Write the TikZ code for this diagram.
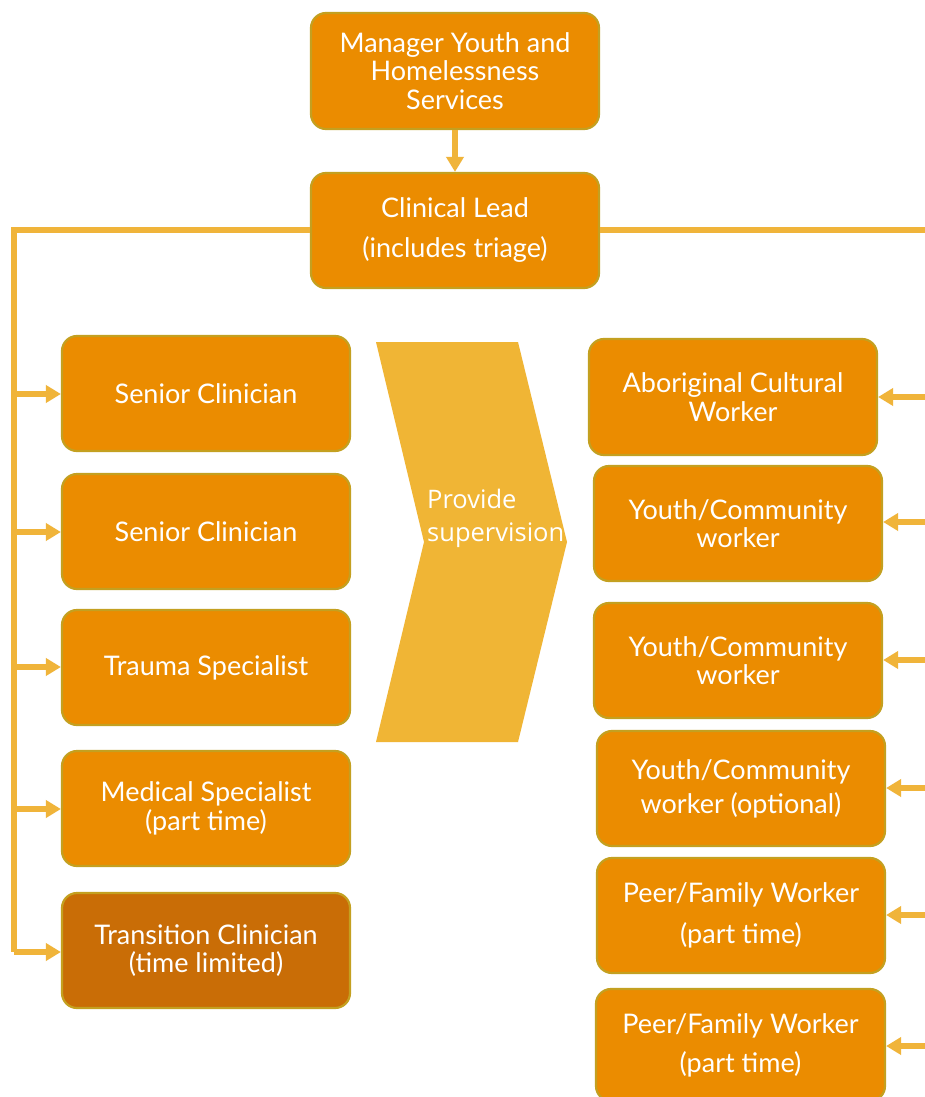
\documentclass[tikz,border=0pt]{standalone}
\usepackage{fontspec}
\setmainfont{Open Sans}
\newfontfamily\boxfont{Lato}
\usetikzlibrary{arrows.meta}
\definecolor{boxfill}{HTML}{EB8C00}
\definecolor{boxedge}{HTML}{C4A020}
\definecolor{darkfill}{HTML}{C96D06}
\definecolor{linkline}{HTML}{F0B43A}
\definecolor{chevfill}{HTML}{F0B535}
\tikzset{
  role/.style={draw=boxedge, line width=2.2pt, fill=boxfill, rounded corners=15pt,
    text=white, align=center, inner sep=0pt, font=\boxfont\fontsize{27}{28.5}\selectfont},
  gap/.style={font=\boxfont\fontsize{27}{#1}\selectfont},
  link/.style={draw=linkline, line width=5.5pt},
  tip/.style={-{Triangle[length=15pt,width=17pt]}}
}
\newcommand{\rolebox}[7][]{% options, name, x1, y1, x2, y2, text
  \node[role, #1, minimum width=#5pt-#3pt, minimum height=#6pt-#4pt] (#2) at ({(#3+#5)/2},{(#4+#6)/2}) {#7};}
\begin{document}
\begin{tikzpicture}[x=1pt,y=-1pt]
\clip (0,0) rectangle (925,1097);
\fill[white] (0,0) rectangle (925,1097);

% supervision chevron
\fill[chevfill] (376,342) -- (518,342) -- (567,542) -- (518,742) -- (376,742) -- (424,542) -- cycle;
\node[text=white, align=left, anchor=west, inner sep=0pt, font=\fontsize{25.5}{33}\selectfont] (sup) at (427,518) {Provide\\supervision};

% management
\rolebox{mgr}{311}{13}{599}{129}{Manager Youth and\\Homelessness\\Services}
\rolebox[gap=40]{lead}{311}{173}{599}{288}{Clinical Lead\\(includes triage)}

% clinical team
\rolebox{sc1}{62}{336}{350}{451}{Senior Clinician}
\rolebox{sc2}{62}{474}{350}{589}{Senior Clinician}
\rolebox{ts}{62}{610}{350}{725}{Trauma Specialist}
\rolebox{ms}{62}{751}{350}{866}{Medical Specialist\\(part time)}
\rolebox[fill=darkfill]{tc}{62}{893}{350}{1008}{Transition Clinician\\(time limited)}

% community team
\rolebox{acw}{589}{339}{877}{455}{Aboriginal Cultural\\Worker}
\rolebox{yc1}{594}{466}{882}{581}{Youth/Community\\worker}
\rolebox{yc2}{594}{603}{882}{718}{Youth/Community\\worker}
\rolebox[gap=34]{yc3}{597}{731}{885}{846}{Youth/Community\\worker (optional)}
\rolebox[gap=41]{pf1}{597}{858}{885}{973}{Peer/Family Worker\\(part time)}
\rolebox[gap=39]{pf2}{596}{989}{885}{1101}{Peer/Family Worker\\(part time)}

% reporting lines
\draw[link, tip] (mgr.south) -- (lead.north);

\coordinate (lt) at (14,230);
\coordinate (rt) at (925,230);
\draw[link] (lead.west |- lt) -- (lt) -- (14,952);
\draw[link] (lead.east |- rt) -- (rt);
\foreach \b/\y in {sc1/394, sc2/532, ts/667, ms/809, tc/952}
  \draw[link, tip] (14,\y) -- (\b.west |- 0,\y);
\foreach \b/\y in {acw/397, yc1/522, yc2/660, yc3/788, pf1/915, pf2/1046}
  \draw[link, tip] (925,\y) -- (\b.east |- 0,\y);
\end{tikzpicture}
\end{document}
